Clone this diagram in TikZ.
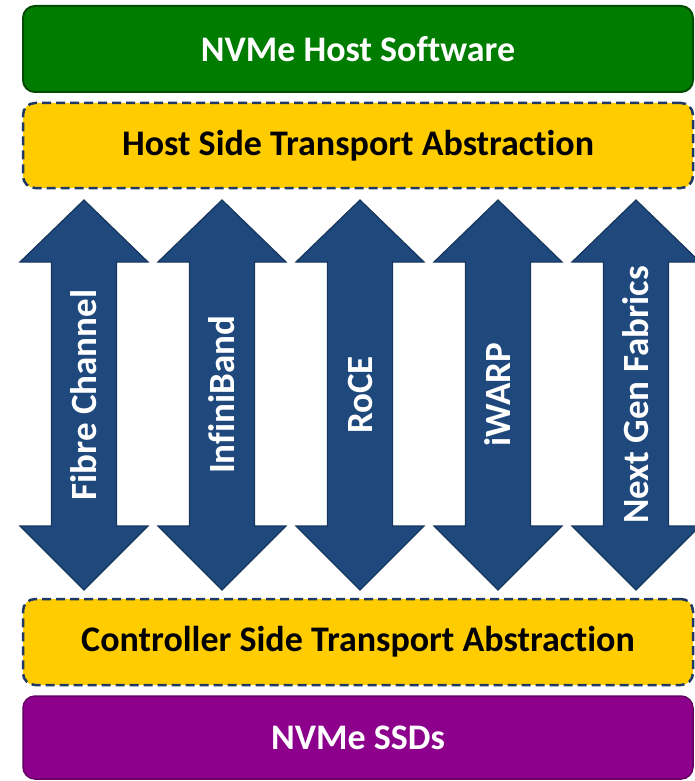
\documentclass[tikz,border=0pt]{standalone}
\usepackage{fontspec}
\setmainfont[Ligatures=NoCommon]{Carlito}
\usepackage{tikz}
\usetikzlibrary{positioning, calc}
\definecolor{swgreen}{RGB}{0,125,0}
\definecolor{swgreenline}{RGB}{0,75,0}
\definecolor{tpyellow}{RGB}{255,204,0}
\definecolor{tpline}{RGB}{31,56,100}
\definecolor{ssdpurple}{RGB}{140,0,140}
\definecolor{ssdline}{RGB}{100,0,100}
\definecolor{fabblue}{RGB}{31,73,125}
\definecolor{fabline}{RGB}{22,54,94}
\tikzset{
    layer/.style={ % Sets the properties for each layer box
        rounded corners=12pt,
        minimum width=670pt,
        font=\fontsize{36}{42}\selectfont\bfseries
    },
    software/.style={layer, fill=swgreen, draw=swgreenline, line width=2pt, text=white},
    transport/.style={layer, fill=tpyellow, draw=tpline, line width=2.5pt,
        dash pattern=on 9pt off 5pt, text=black},
    ssds/.style={layer, fill=ssdpurple, draw=ssdline, line width=1.5pt, text=white},
    fabric/.style={fill=fabblue, draw=fabline, line width=1.2pt},
    fabtext/.style={rotate=90, text=white, font=\fontsize{37}{42}\selectfont\bfseries}
}

\begin{document}
\begin{tikzpicture}[x=1pt, y=-1pt]
    \useasboundingbox (0,0) rectangle (695,781);
    \node[software,  minimum height=86pt] (host)  at (358,49)    {NVMe Host Software};
    \node[transport, minimum height=85pt] (hsta)  at (358,145.5) {Host Side Transport Abstraction};

    % fabrics between the two abstractions
    \foreach \name/\label [count=\i from 0] in {fc/Fibre Channel, ib/InfiniBand, roce/RoCE,
                                                iwarp/iWARP, ngf/Next Gen Fabrics} {
        \coordinate (\name) at (84+138*\i,395);
        \filldraw[fabric] ($(\name)+(0,-195)$) -- ++(64,62) -- ++(-31.5,0) -- ++(0,264)
            -- ++(31.5,0) -- ++(-64,64) -- ++(-64,-64) -- ++(31.5,0) -- ++(0,-264)
            -- ++(-31.5,0) -- cycle;
        \node[fabtext] (\name-text) at (\name) {\label};
    }

    \node[transport, minimum height=86pt] (csta)  at (358,642)   {Controller Side Transport Abstraction};
    \node[ssds,      minimum height=83pt] (ssd)   at (358,737.5) {NVMe SSDs};
\end{tikzpicture}
\end{document}
